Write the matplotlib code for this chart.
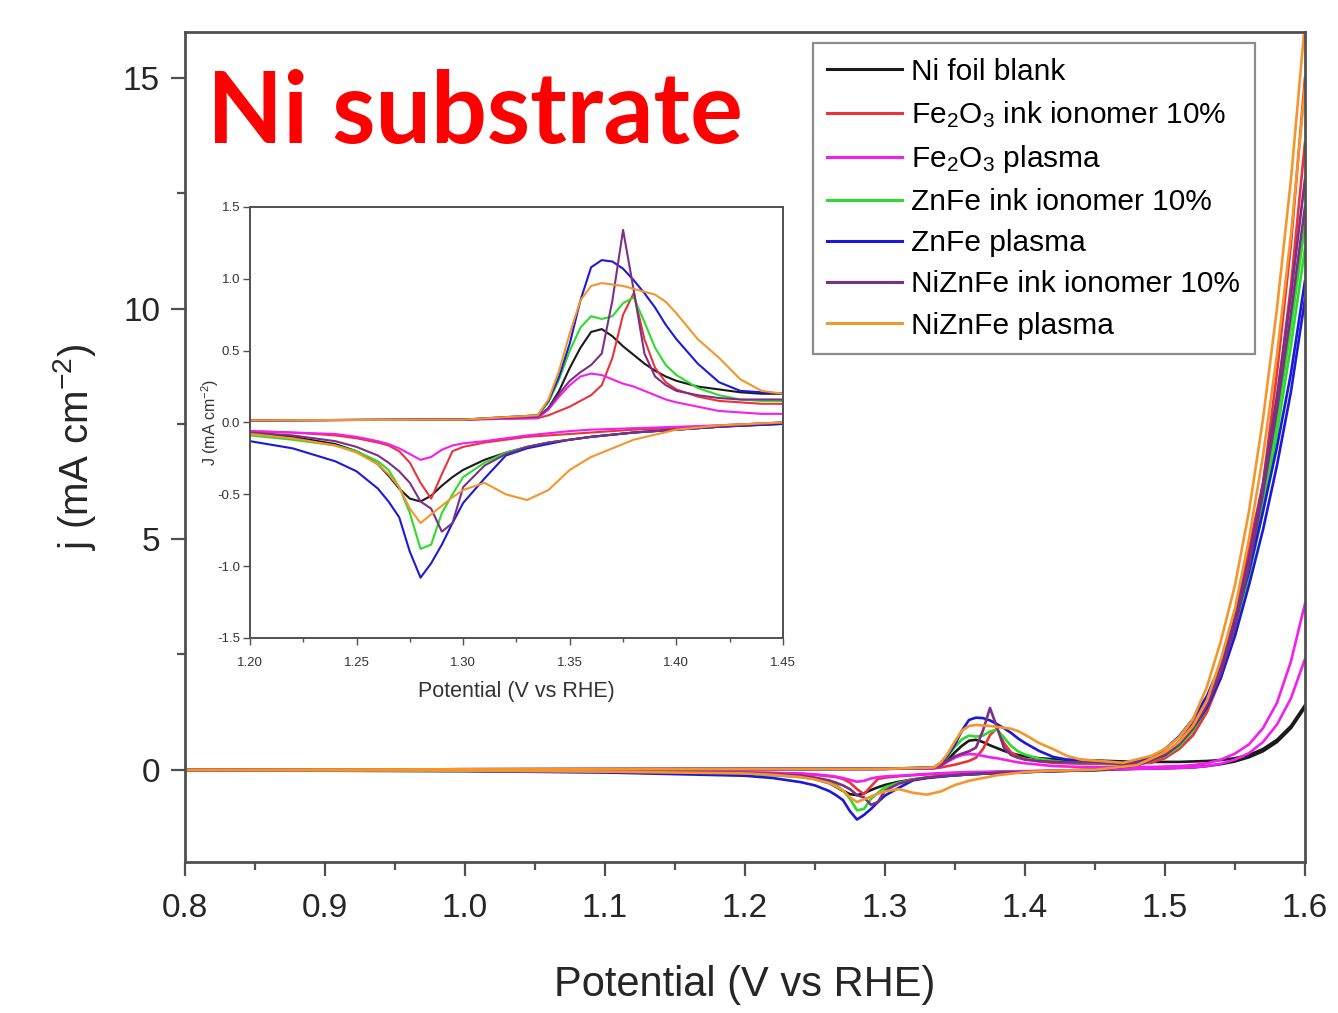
import numpy as np
import matplotlib
matplotlib.use("Agg")
import matplotlib.pyplot as plt

plt.rcParams["font.family"] = ["Liberation Sans", "DejaVu Sans"]
plt.rcParams["mathtext.fontset"] = "custom"
plt.rcParams["mathtext.rm"] = "Liberation Sans"
plt.rcParams["mathtext.it"] = "Liberation Sans:italic"

# potential grids (V vs RHE): anodic sweep up, cathodic sweep back down
v_fwd = [0.80, 1.00, 1.20, 1.30, 1.335, 1.34, 1.345, 1.35, 1.355, 1.36, 1.365, 1.37,
         1.375, 1.38, 1.385, 1.39, 1.395, 1.40, 1.41, 1.42, 1.43, 1.44, 1.45, 1.47,
         1.49, 1.50, 1.51, 1.52, 1.53, 1.54, 1.55, 1.56, 1.57, 1.58, 1.59, 1.60]
v_rev = [1.60, 1.59, 1.58, 1.57, 1.56, 1.55, 1.54, 1.53, 1.52, 1.51, 1.50, 1.48,
         1.45, 1.42, 1.40, 1.38, 1.36, 1.35, 1.34, 1.33, 1.32, 1.31, 1.30, 1.295,
         1.29, 1.285, 1.28, 1.275, 1.27, 1.265, 1.26, 1.25, 1.24, 1.22, 1.20, 1.10,
         1.00, 0.80]

labels = ["Ni foil blank",
          r"Fe$_\mathregular{2}$O$_\mathregular{3}$ ink ionomer 10%",
          r"Fe$_\mathregular{2}$O$_\mathregular{3}$ plasma",
          "ZnFe ink ionomer 10%",
          "ZnFe plasma",
          "NiZnFe ink ionomer 10%",
          "NiZnFe plasma"]
colors = ["#1a1a1a", "#e8343a", "#f21ff0", "#2bdc2b", "#1c1ad8", "#7d2f86", "#f5952c"]

# current density j (mA cm-2), anodic sweep
j_fwd = [
    [0.0, 0.01, 0.015, 0.02, 0.04, 0.10, 0.22, 0.38, 0.52, 0.63, 0.65, 0.60, 0.53, 0.47,
     0.41, 0.36, 0.32, 0.29, 0.25, 0.23, 0.21, 0.20, 0.20, 0.18, 0.17, 0.17, 0.17, 0.18,
     0.19, 0.21, 0.25, 0.32, 0.45, 0.65, 0.95, 1.40],
    [0.0, 0.01, 0.015, 0.02, 0.03, 0.05, 0.08, 0.11, 0.15, 0.19, 0.26, 0.45, 0.75, 0.90,
     0.58, 0.38, 0.28, 0.23, 0.18, 0.15, 0.14, 0.13, 0.13, 0.12, 0.15, 0.25, 0.45, 0.75,
     1.3, 2.1, 3.3, 4.8, 6.2, 8.6, 11.4, 15.0],
    [0.0, 0.01, 0.015, 0.02, 0.03, 0.09, 0.18, 0.26, 0.32, 0.34, 0.33, 0.30, 0.27, 0.25,
     0.22, 0.19, 0.16, 0.14, 0.11, 0.08, 0.07, 0.06, 0.06, 0.06, 0.06, 0.07, 0.08, 0.10,
     0.14, 0.22, 0.35, 0.55, 0.9, 1.45, 2.35, 3.6],
    [0.0, 0.01, 0.015, 0.02, 0.05, 0.14, 0.30, 0.50, 0.66, 0.74, 0.72, 0.74, 0.83, 0.87,
     0.70, 0.52, 0.40, 0.33, 0.24, 0.19, 0.16, 0.15, 0.15, 0.12, 0.2, 0.35, 0.6, 0.95,
     1.45, 2.15, 3.1, 4.3, 5.8, 7.6, 9.6, 11.8],
    [0.0, 0.01, 0.015, 0.02, 0.05, 0.15, 0.32, 0.55, 0.85, 1.08, 1.13, 1.12, 1.07, 0.99,
     0.90, 0.80, 0.68, 0.58, 0.41, 0.28, 0.22, 0.21, 0.20, 0.15, 0.25, 0.45, 0.72, 1.1,
     1.6, 2.3, 3.2, 4.3, 5.6, 7.0, 8.6, 10.6],
    [0.0, 0.01, 0.015, 0.02, 0.04, 0.10, 0.20, 0.29, 0.35, 0.40, 0.48, 0.85, 1.34, 0.92,
     0.48, 0.32, 0.26, 0.22, 0.19, 0.17, 0.16, 0.16, 0.16, 0.12, 0.2, 0.35, 0.6, 1.0,
     1.5, 2.25, 3.3, 4.6, 6.2, 8.1, 10.3, 12.8],
    [0.0, 0.01, 0.015, 0.02, 0.05, 0.16, 0.36, 0.62, 0.85, 0.95, 0.97, 0.96, 0.95, 0.93,
     0.91, 0.89, 0.84, 0.76, 0.58, 0.45, 0.30, 0.22, 0.20, 0.15, 0.30, 0.45, 0.70, 1.10,
     1.80, 2.80, 4.0, 5.6, 7.6, 10.0, 12.8, 16.2],
]

# cathodic sweep
j_rev = [
    [1.35, 0.90, 0.60, 0.40, 0.27, 0.18, 0.12, 0.08, 0.05, 0.04, 0.03, 0.02, -0.01, -0.03,
     -0.05, -0.07, -0.10, -0.12, -0.14, -0.17, -0.21, -0.26, -0.33, -0.38, -0.44, -0.51,
     -0.55, -0.53, -0.46, -0.37, -0.29, -0.20, -0.15, -0.10, -0.07, -0.04, -0.02, -0.01],
    [13.6, 10.5, 8.0, 6.0, 4.3, 3.0, 2.0, 1.25, 0.75, 0.45, 0.28, 0.1, 0.0, -0.02,
     -0.04, -0.05, -0.07, -0.08, -0.09, -0.10, -0.12, -0.14, -0.17, -0.20, -0.36, -0.53,
     -0.42, -0.28, -0.20, -0.16, -0.14, -0.11, -0.09, -0.07, -0.06, -0.03, -0.02, -0.01],
    [2.4, 1.55, 0.98, 0.6, 0.36, 0.22, 0.13, 0.08, 0.05, 0.04, 0.03, 0.02, 0.0, -0.02,
     -0.03, -0.04, -0.05, -0.06, -0.075, -0.09, -0.11, -0.13, -0.145, -0.16, -0.19, -0.24,
     -0.26, -0.22, -0.18, -0.15, -0.13, -0.10, -0.08, -0.07, -0.06, -0.03, -0.02, -0.01],
    [11.3, 9.2, 7.3, 5.6, 4.2, 3.0, 2.05, 1.35, 0.85, 0.5, 0.3, 0.1, 0.0, -0.03,
     -0.05, -0.07, -0.10, -0.12, -0.14, -0.17, -0.21, -0.28, -0.38, -0.50, -0.63, -0.85,
     -0.88, -0.63, -0.45, -0.33, -0.27, -0.20, -0.16, -0.12, -0.09, -0.05, -0.03, -0.01],
    [10.2, 8.2, 6.6, 5.2, 4.0, 2.9, 2.0, 1.35, 0.9, 0.55, 0.32, 0.1, -0.01, -0.03,
     -0.05, -0.07, -0.10, -0.12, -0.15, -0.18, -0.23, -0.39, -0.56, -0.70, -0.85, -0.98,
     -1.08, -0.90, -0.66, -0.55, -0.46, -0.34, -0.27, -0.18, -0.13, -0.06, -0.03, -0.01],
    [12.2, 9.9, 7.8, 6.0, 4.4, 3.1, 2.1, 1.4, 0.9, 0.55, 0.32, 0.1, 0.0, -0.03,
     -0.05, -0.07, -0.10, -0.12, -0.14, -0.17, -0.22, -0.30, -0.45, -0.70, -0.76, -0.60,
     -0.55, -0.42, -0.34, -0.28, -0.23, -0.17, -0.13, -0.09, -0.07, -0.04, -0.02, -0.01],
    [14.8, 11.6, 9.0, 6.8, 5.0, 3.5, 2.4, 1.5, 0.95, 0.6, 0.38, 0.1, 0.0, -0.02,
     -0.05, -0.12, -0.24, -0.33, -0.47, -0.54, -0.50, -0.42, -0.47, -0.52, -0.58, -0.64,
     -0.70, -0.60, -0.45, -0.36, -0.29, -0.21, -0.16, -0.11, -0.08, -0.04, -0.02, -0.01],
]

spine_col = "#505050"
text_col = "#262626"

fig = plt.figure(figsize=(13.38, 10.13), dpi=100)
ax = fig.add_axes([0.1383, 0.1491, 0.8370, 0.8193])

for lab, col, jf, jr in zip(labels, colors, j_fwd, j_rev):
    ax.plot(v_fwd, jf, color=col, lw=1.9, label=lab)
    ax.plot(v_rev, jr, color=col, lw=1.9)

ax.set_xlim(0.8, 1.6)
ax.set_ylim(-2, 16)
ax.set_xticks(np.arange(0.8, 1.61, 0.1))
ax.set_xticks(np.arange(0.85, 1.6, 0.1), minor=True)
ax.set_yticks([0, 5, 10, 15])
ax.set_yticks([2.5, 7.5, 12.5], minor=True)
ax.xaxis.set_major_formatter(matplotlib.ticker.FormatStrFormatter("%.1f"))
ax.tick_params(which="both", direction="out", colors=spine_col, width=1.6,
               labelcolor=text_col, labelsize=24)
ax.tick_params(which="major", length=10)
ax.tick_params(which="minor", length=6)
ax.tick_params(axis="x", pad=12)
ax.tick_params(axis="y", pad=8)
for s in ax.spines.values():
    s.set_color(spine_col)
    s.set_linewidth(2.0)
ax.set_xlabel("Potential (V vs RHE)", fontsize=30, color=text_col, labelpad=30)
ax.set_ylabel(r"j (mA cm$^{\mathregular{-2}}$)", fontsize=29, color=text_col, labelpad=18)

leg = ax.legend(loc="upper right", bbox_to_anchor=(1255 / 1338, 1 - 43 / 1013),
                bbox_transform=fig.transFigure, fontsize=21.5, frameon=True,
                fancybox=False, handlelength=2.5, handletextpad=0.3,
                labelspacing=0.44, borderpad=0.5, borderaxespad=0)
leg.get_frame().set_edgecolor("#707070")
leg.get_frame().set_linewidth(1.6)
for line in leg.get_lines():
    line.set_linewidth(2.2)

# zoomed inset of the redox region
axi = fig.add_axes([0.1868, 0.3702, 0.3984, 0.4255])
for col, jf, jr in zip(colors, j_fwd, j_rev):
    axi.plot(v_fwd, jf, color=col, lw=1.5)
    axi.plot(v_rev, jr, color=col, lw=1.5)
axi.set_xlim(1.20, 1.45)
axi.set_ylim(-1.5, 1.5)
axi.set_xticks(np.arange(1.20, 1.451, 0.05))
axi.set_xticks(np.arange(1.225, 1.45, 0.05), minor=True)
axi.set_yticks(np.arange(-1.5, 1.51, 0.5))
axi.xaxis.set_major_formatter(matplotlib.ticker.FormatStrFormatter("%.2f"))
axi.yaxis.set_major_formatter(matplotlib.ticker.FormatStrFormatter("%.1f"))
axi.tick_params(which="both", direction="out", colors=spine_col, width=1.0,
                labelcolor="#333333", labelsize=9.5, pad=2)
axi.tick_params(axis="x", pad=9)
axi.tick_params(which="major", length=5)
axi.tick_params(which="minor", length=3)
for s in axi.spines.values():
    s.set_color(spine_col)
    s.set_linewidth(1.4)
axi.set_xlabel("Potential (V vs RHE)", fontsize=15.5, color="#333333", labelpad=8)
axi.set_ylabel(r"J (mA cm$^{\mathregular{-2}}$)", fontsize=11.5, color="#333333", labelpad=-3)

fig.text(207 / 1338, 1 - 143 / 1013, "Ni substrate", color="#ff0000",
         fontsize=71, fontweight="bold", family="Lato", va="baseline", ha="left")

fig.savefig("out.png", dpi=100)
